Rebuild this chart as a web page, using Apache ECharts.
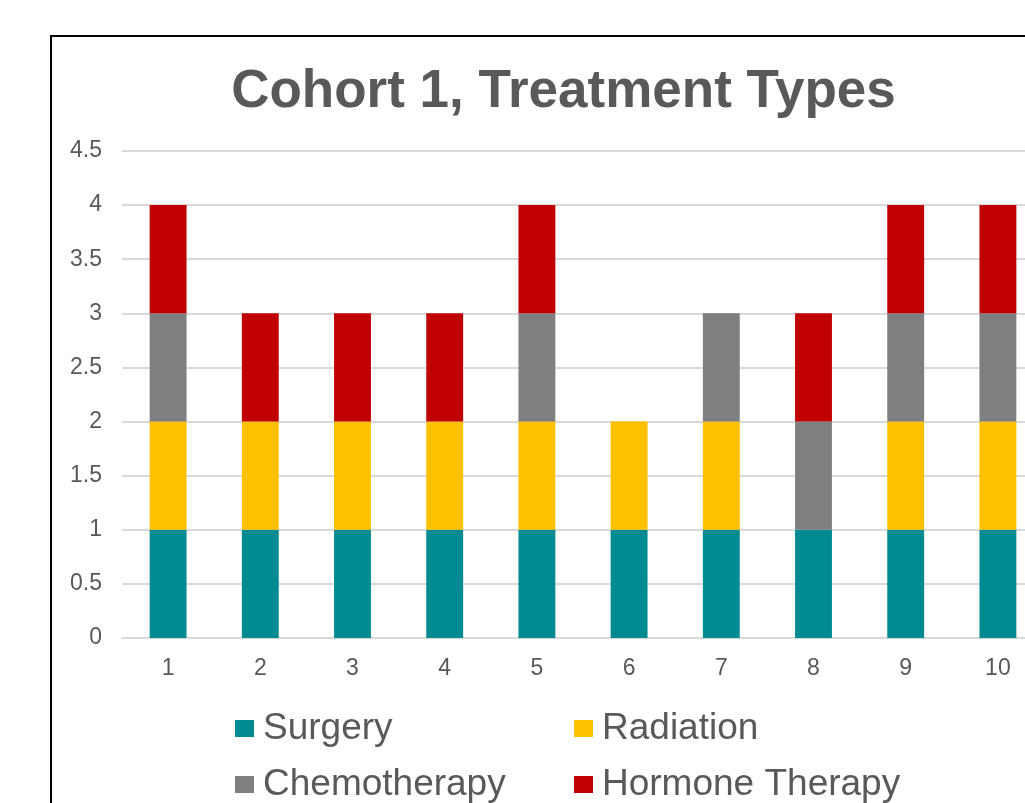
<!DOCTYPE html>
<html>
<head>
<meta charset="utf-8">
<script src="https://cdn.jsdelivr.net/npm/echarts@6/dist/echarts.min.js"></script>
<style>
html,body{margin:0;padding:0;overflow:hidden;background:#fff;width:1025px;height:803px;}
#chart{position:absolute;left:0;top:0;width:1127px;height:900px;}
</style>
</head>
<body>
<div id="chart"></div>
<script>
const title = 'Cohort 1, Treatment Types';
const categories = ['1','2','3','4','5','6','7','8','9','10'];
const surgery      = [1,1,1,1,1,1,1,1,1,1];
const radiation    = [1,1,1,1,1,1,1,0,1,1];
const chemotherapy = [1,0,0,0,1,0,1,1,1,1];
const hormone      = [1,1,1,1,1,0,0,1,1,1];
const seriesNames = ['Surgery','Radiation','Chemotherapy','Hormone Therapy'];
const colors = ['#008B92','#FFC000','#7F7F7F','#C00000'];
const values = [surgery, radiation, chemotherapy, hormone];

const chart = echarts.init(document.getElementById('chart'), null, {renderer:'canvas'});
const txt = '#595959';
const font = 'Liberation Sans, Arial, sans-serif';

const legendPos = [[235,710],[574,710],[235,766],[574,766]];
const legends = seriesNames.map((n,i)=>({
  data:[n], left:legendPos[i][0], top:legendPos[i][1], padding:0,
  itemWidth:19, itemHeight:17, icon:'rect', itemGap:0,
  textStyle:{fontSize:37, color:txt, fontFamily:font, padding:[0,0,0,4]}
}));

chart.setOption({
  animation:false,
  color:colors,
  title:{text:title, left:'center', top:61,
    textStyle:{fontSize:53, fontWeight:'bold', color:txt, fontFamily:font}},
  legend:legends,
  grid:{left:122, right:83, top:151, bottom:262, containLabel:false},
  xAxis:{type:'category', data:categories,
    axisLine:{lineStyle:{color:'#d9d9d9', width:2}},
    axisTick:{show:false},
    axisLabel:{color:txt, fontSize:23, fontFamily:font, margin:19}},
  yAxis:{type:'value', min:0, max:4.5, interval:0.5,
    axisLine:{show:false}, axisTick:{show:false},
    splitLine:{lineStyle:{color:'#d9d9d9', width:2}},
    axisLabel:{color:txt, fontSize:23, fontFamily:font, margin:20,
      padding:[0,0,5,0]}},
  series: seriesNames.map((n,i)=>({
    name:n, type:'bar', stack:'total', data:values[i], barWidth:'40%',
    itemStyle:{color:colors[i]}
  })),
  graphic:[{type:'rect', shape:{x:51,y:36,width:1200,height:1000},
    style:{fill:'none', stroke:'#000', lineWidth:2}, silent:true, z:100}]
});
</script>
</body>
</html>
